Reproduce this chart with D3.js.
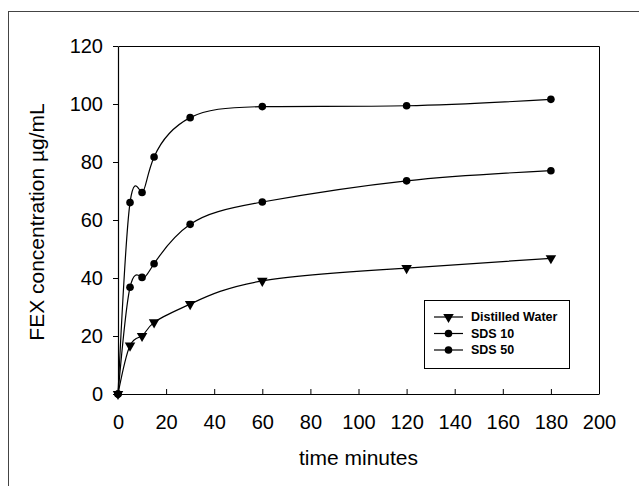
<!DOCTYPE html>
<html>
<head>
<meta charset="utf-8">
<script src="https://cdn.jsdelivr.net/npm/d3@7"></script>
<style>
  body { margin: 0; background: #fff; }
  svg { display: block; font-family: "Liberation Sans", Arial, sans-serif; }
</style>
</head>
<body>
<div id="chart"></div>
<script>
// data
var times = [0, 5, 10, 15, 30, 60, 120, 180];
var distilledWater = [0, 16.7, 20, 24.7, 31, 39, 43.4, 46.8];
var sds10 = [0, 36.8, 40.2, 44.9, 58.5, 66.2, 73.5, 77];
var sds50 = [0, 66, 69.5, 81.7, 95.3, 99.1, 99.4, 101.6];
var xTicks = [0, 20, 40, 60, 80, 100, 120, 140, 160, 180, 200];
var yTicks = [0, 20, 40, 60, 80, 100, 120];

var series = [
  {name: "Distilled Water", values: distilledWater, marker: "tri"},
  {name: "SDS 10", values: sds10, marker: "dot"},
  {name: "SDS 50", values: sds50, marker: "dot"}
];

var W = 639, H = 486,
    margin = {top: 46, left: 118},
    width = 481,
    height = 348;

var svg = d3.select("#chart").append("svg")
    .attr("width", W)
    .attr("height", H);

// outer frame (runs off the right and bottom edges)
svg.append("rect")
    .attr("x", 8.5).attr("y", 11.5)
    .attr("width", 700).attr("height", 600)
    .attr("fill", "none")
    .attr("stroke", "#444")
    .attr("stroke-width", 1);

var g = svg.append("g")
    .attr("transform", "translate(" + margin.left + "," + margin.top + ")");

var x = d3.scaleLinear().domain([0, 200]).range([0, width]);
var y = d3.scaleLinear().domain([0, 120]).range([height, 0]);

// plot box top and right
g.append("path")
    .attr("d", "M0.5,0.5H" + (width + 0.5) + "V" + height)
    .attr("fill", "none")
    .attr("stroke", "#000");

var xAxis = g.append("g")
    .attr("transform", "translate(0," + height + ")")
    .call(d3.axisBottom(x).tickValues(xTicks).tickSizeInner(-5).tickSizeOuter(0).tickPadding(21));

var yAxis = g.append("g")
    .call(d3.axisLeft(y).tickValues(yTicks).tickSizeInner(5).tickSizeOuter(0).tickPadding(10));

[xAxis, yAxis].forEach(function(a) {
  a.select(".domain").attr("stroke", "#000").attr("stroke-width", 1.2);
  a.selectAll(".tick line").attr("stroke", "#000");
  a.selectAll(".tick text")
      .attr("fill", "#000")
      .style("font-size", "20px")
      .style("font-family", "Liberation Sans, Arial, sans-serif");
});

svg.append("text")
    .attr("x", margin.left + width / 2)
    .attr("y", 465)
    .attr("text-anchor", "middle")
    .style("font-size", "21px")
    .text("time minutes");

svg.append("text")
    .attr("transform", "translate(44," + (margin.top + height / 2 + 2) + ") rotate(-90)")
    .attr("text-anchor", "middle")
    .style("font-size", "21px")
    .text("FEX concentration \u00b5g/mL");

var line = d3.line()
    .x(function(d, i) { return x(times[i]); })
    .y(function(d) { return y(d); })
    .curve(d3.curveNatural);

var tri = d3.symbol().type(d3.symbolTriangle).size(48);

function drawMarker(sel, type) {
  if (type == "tri") {
    sel.append("path")
        .attr("d", tri)
        .attr("transform", "rotate(180)")
        .attr("fill", "#000");
  } else {
    sel.append("circle")
        .attr("r", 3.8)
        .attr("fill", "#000");
  }
}

series.forEach(function(s) {
  g.append("path")
      .datum(s.values)
      .attr("fill", "none")
      .attr("stroke", "#000")
      .attr("stroke-width", 1.2)
      .attr("d", line);

  g.selectAll(null)
      .data(s.values)
    .enter().append("g")
      .attr("transform", function(d, i) { return "translate(" + x(times[i]) + "," + y(d) + ")"; })
      .each(function() { drawMarker(d3.select(this), s.marker); });
});

// legend
var legend = svg.append("g").attr("transform", "translate(424,300)");
legend.append("rect")
    .attr("x", 0.5).attr("y", 0.5)
    .attr("width", 145).attr("height", 68)
    .attr("fill", "#fff")
    .attr("stroke", "#000");

series.forEach(function(s, i) {
  var row = legend.append("g").attr("transform", "translate(0," + (17 + i * 16.5) + ")");
  row.append("line")
      .attr("x1", 10).attr("x2", 39)
      .attr("stroke", "#000")
      .attr("stroke-width", 1.2);
  drawMarker(row.append("g").attr("transform", "translate(24.5,0)"), s.marker);
  row.append("text")
      .attr("x", 47)
      .attr("dy", "0.35em")
      .style("font-size", "12.5px")
      .style("font-weight", "bold")
      .text(s.name);
});
</script>
</body>
</html>
